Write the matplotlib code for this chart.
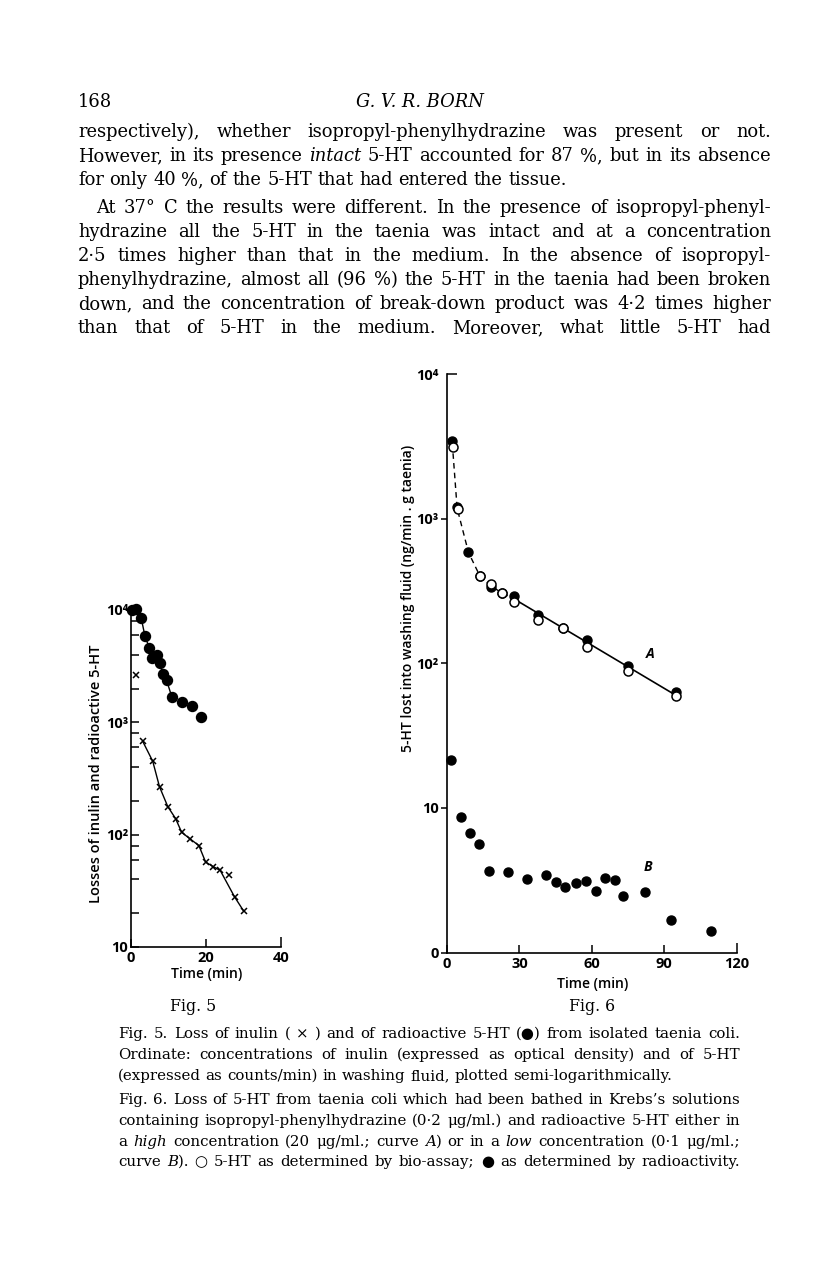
import matplotlib.pyplot as plt
import numpy as np
from matplotlib.ticker import FixedLocator, FixedFormatter

W, H = 816, 1272

# ---- Fig. 5 data ----
inulin_t = [1.4, 3.1, 5.8, 7.6, 9.8, 11.9, 13.5, 15.7, 18.1, 19.9, 21.9, 23.8, 26.0, 27.6, 30.0]
inulin_v = [2650, 680, 450, 267, 178, 139, 105, 92, 80, 57, 52, 48, 44, 28, 21]
inulin_curve = [1, 2, 3, 4, 5, 6, 7, 8, 9, 10, 11, 13, 14]   # points the drawn curve passes through
ht5_t = [0.3, 1.4, 2.7, 3.7, 4.9, 5.5, 6.9, 7.6, 8.5, 9.5, 10.9, 13.5, 16.2, 18.7]
ht5_v = [10000, 10300, 8550, 5900, 4570, 3720, 3940, 3370, 2710, 2360, 1680, 1510, 1410, 1120]
ht5_curve = [0, 2, 3, 4, 5, 7, 8, 9, 10]

# ---- Fig. 6 data ----
a_fill_t = [1.9, 4.0, 8.9, 13.6, 18.1, 22.8, 27.7, 37.9, 48.0, 58.0, 74.9, 94.9]
a_fill_v = [3420, 1200, 584, 402, 339, 305, 292, 216, 175, 145, 95, 63]
a_open_t = [2.6, 4.4, 13.6, 18.1, 22.8, 27.7, 37.9, 48.0, 58.0, 74.9, 94.9]
a_open_v = [3150, 1165, 402, 352, 305, 266, 200, 175, 130, 89, 59]
a_dash_t = [2.2, 4.2, 8.9, 13.6, 18.1, 22.8, 27.7]
a_dash_v = [3300, 1180, 584, 402, 345, 305, 279]
a_fit_t = [27.7, 94.9]
a_fit_v = [279, 60]
b_t = [1.6, 5.8, 9.5, 13.3, 17.3, 25.1, 33.2, 41.2, 45.3, 48.8, 53.5, 57.5, 61.6, 65.4,
       69.7, 72.9, 82.0, 93.0, 109.3]
b_v = [21.3, 8.7, 6.7, 5.6, 3.66, 3.58, 3.21, 3.45, 3.07, 2.84, 3.01, 3.10, 2.68, 3.29,
       3.17, 2.47, 2.61, 1.68, 1.41]

body = [
    "respectively), whether isopropyl-phenylhydrazine was present or not.",
    "However, in its presence *intact* 5-HT accounted for 87 %, but in its absence",
    "for only 40 %, of the 5-HT that had entered the tissue.",
    "At 37° C the results were different.  In the presence of isopropyl-phenyl-",
    "hydrazine all the 5-HT in the taenia was intact and at a concentration",
    "2·5 times higher than that in the medium.  In the absence of isopropyl-",
    "phenylhydrazine, almost all (96 %) the 5-HT in the taenia had been broken",
    "down, and the concentration of break-down product was 4·2 times higher",
    "than that of 5-HT in the medium.  Moreover, what little 5-HT had",
]
captions = [
    "Fig. 5.  Loss of inulin ( × ) and of radioactive 5-HT (●) from isolated taenia coli.",
    "Ordinate: concentrations of inulin (expressed as optical density) and of 5-HT",
    "(expressed as counts/min) in washing fluid, plotted semi-logarithmically.",
    "Fig. 6.  Loss of 5-HT from taenia coli which had been bathed in Krebs’s solutions",
    "containing isopropyl-phenylhydrazine (0·2 μg/ml.) and radioactive 5-HT either in",
    "a *high* concentration (20 μg/ml.; curve *A*) or in a *low* concentration (0·1 μg/ml.;",
    "curve *B*).  ○ 5-HT as determined by bio-assay; ● as determined by radioactivity.",
]

SERIF = ['DejaVu Serif']
SANS = ['Open Sans', 'DejaVu Sans']

fig = plt.figure(figsize=(W / 100, H / 100), dpi=100)
fig.patch.set_facecolor('white')
rend = fig.canvas.get_renderer()


def px(x, y):
    return x / W, 1 - y / H


def segs(word):
    parts = word.split('*')
    return [(p, i % 2 == 1) for i, p in enumerate(parts) if p]


def width(s, size, italic):
    t = fig.text(0, 0, s, fontsize=size, family=SERIF, style='italic' if italic else 'normal')
    w = t.get_window_extent(renderer=rend).width
    t.remove()
    return w


def space(size):
    return width('a a', size, False) - width('aa', size, False)


def natural(line, size):
    words = line.split()
    return sum(width(s, size, it) for w in words for s, it in segs(w)) + space(size) * (len(words) - 1)


def text_line(line, x0, x1, y, size, justify=True):
    words = line.split()
    ws = [sum(width(s, size, it) for s, it in segs(w)) for w in words]
    if justify and len(words) > 1:
        gap = (x1 - x0 - sum(ws)) / (len(words) - 1)
    else:
        gap = space(size)
    x = x0
    for w, wd in zip(words, ws):
        xx = x
        for s, it in segs(w):
            fig.text(*px(xx, y), s, fontsize=size, family=SERIF,
                     style='italic' if it else 'normal', va='baseline')
            xx += width(s, size, it)
        x += wd + gap


# font sizes chosen so that the tightest line just fits the measure
body_size = 10 * 693 / max(natural(l, 10) for l in body) * 0.99
cap_size = 10 * 622 / max(natural(l, 10) for l in captions) * 0.99

# header and body text
fig.text(*px(78, 107), '168', fontsize=body_size, family=SERIF, va='baseline')
fig.text(*px(420, 107), 'G. V. R. BORN', fontsize=body_size, family=SERIF, style='italic',
         va='baseline', ha='center')
body_y = [137, 161, 185, 213, 237, 261, 285, 309, 333]
for i, (line, y) in enumerate(zip(body, body_y)):
    x0 = 96 if i == 3 else 78
    text_line(line, x0, 771, y, body_size, justify=(i != 2))

cap_y = [1038, 1059, 1080, 1104, 1125, 1146, 1166]
for i, (line, y) in enumerate(zip(captions, cap_y)):
    text_line(line, 118, 740, y, cap_size, justify=(i != 2))

fig.text(*px(193, 1011), 'Fig. 5', fontsize=cap_size + 0.6, family=SERIF, ha='center', va='baseline')
fig.text(*px(592, 1011), 'Fig. 6', fontsize=cap_size + 0.6, family=SERIF, ha='center', va='baseline')

# ---- Fig. 5 ----
ax5 = fig.add_axes([131 / W, 1 - 947 / H, 150 / W, 337 / H])
ax5.set_yscale('log')
ax5.set_xlim(0, 40)
ax5.set_ylim(10, 1e4)
ti = np.array(inulin_t)
vi = np.array(inulin_v)
th = np.array(ht5_t)
vh = np.array(ht5_v)
ax5.plot(ti[inulin_curve], vi[inulin_curve], color='black', lw=1.0, clip_on=False)
ax5.plot(th[ht5_curve], vh[ht5_curve], color='black', lw=1.0, clip_on=False)
ax5.plot(ti, vi, 'x', color='black', ms=5, mew=1.1, clip_on=False)
ax5.plot(th, vh, 'o', color='black', ms=7.2, clip_on=False)

for sp in ['top', 'right']:
    ax5.spines[sp].set_visible(False)
for sp in ['left', 'bottom']:
    ax5.spines[sp].set_linewidth(1.2)
ax5.yaxis.set_major_locator(FixedLocator([10, 100, 1000, 10000]))
ax5.yaxis.set_major_formatter(FixedFormatter(['10', '10²', '10³', '10⁴']))
minors = [m * d for d in (10, 100, 1000) for m in (2, 4, 6, 8)]
ax5.yaxis.set_minor_locator(FixedLocator(minors))
ax5.yaxis.set_minor_formatter(FixedFormatter([''] * len(minors)))
ax5.xaxis.set_major_locator(FixedLocator([0, 20]))
ax5.xaxis.set_minor_locator(FixedLocator([40]))
ax5.xaxis.set_minor_formatter(FixedFormatter(['40']))
ax5.tick_params(axis='y', which='major', direction='in', length=6, width=1.1, pad=2)
ax5.tick_params(axis='y', which='minor', direction='in', length=5.5, width=1.1)
ax5.tick_params(axis='x', which='major', direction='in', length=6, width=1.1, pad=3)
ax5.tick_params(axis='x', which='minor', direction='in', length=7, width=1.1, pad=3)
for lab in ax5.get_xticklabels(which='both') + ax5.get_yticklabels():
    lab.set_fontfamily(SANS)
    lab.set_fontsize(10.5)
    lab.set_fontweight('bold')
fig.text(*px(207, 974), 'Time (min)', fontsize=10, family=SANS, ha='center', va='center',
         fontweight='semibold')
fig.text(*px(96, 774), 'Losses of inulin and radioactive 5-HT', fontsize=10.5, family=SANS,
         rotation=90, ha='center', va='center', fontweight='semibold')

# ---- Fig. 6 ----
ax6 = fig.add_axes([447 / W, 1 - 952.5 / H, 289.5 / W, 578.5 / H])
ax6.set_yscale('log')
ax6.set_xlim(0, 120)
ax6.set_ylim(1, 1e4)
ax6.plot(a_dash_t, a_dash_v, color='black', lw=1.0, ls=(0, (4, 3)), clip_on=False)
ax6.plot(a_fit_t, a_fit_v, color='black', lw=1.2, clip_on=False)
ax6.plot(a_fill_t, a_fill_v, 'o', color='black', ms=6.5, clip_on=False)
ax6.plot(a_open_t, a_open_v, 'o', mfc='white', mec='black', mew=1.1, ms=6.5, clip_on=False)
ax6.plot(b_t, b_v, 'o', color='black', ms=6.5, clip_on=False)
ax6.text(84.2, 115, 'A', fontsize=10, family=SANS, style='italic', fontweight='bold',
         ha='center', va='center')
ax6.text(83.3, 3.9, 'B', fontsize=10, family=SANS, style='italic', fontweight='bold',
         ha='center', va='center')

for sp in ['top', 'right']:
    ax6.spines[sp].set_visible(False)
for sp in ['left', 'bottom']:
    ax6.spines[sp].set_linewidth(1.2)
ax6.yaxis.set_major_locator(FixedLocator([1, 10, 100, 1000]))
ax6.yaxis.set_major_formatter(FixedFormatter(['0', '10', '10²', '10³']))
ax6.yaxis.set_minor_locator(FixedLocator([10000]))
ax6.yaxis.set_minor_formatter(FixedFormatter(['10⁴']))
ax6.xaxis.set_major_locator(FixedLocator([0, 30, 60, 90]))
ax6.xaxis.set_minor_locator(FixedLocator([120]))
ax6.xaxis.set_minor_formatter(FixedFormatter(['120']))
ax6.tick_params(axis='y', which='major', direction='out', length=4, width=1.1, pad=2)
ax6.tick_params(axis='y', which='minor', direction='in', length=7, width=1.1, pad=6)
ax6.tick_params(axis='x', which='major', direction='in', length=6, width=1.1, pad=3)
ax6.tick_params(axis='x', which='minor', direction='in', length=7, width=1.1, pad=3)
for lab in (ax6.get_xticklabels(which='both') + ax6.get_yticklabels(which='both')):
    lab.set_fontfamily(SANS)
    lab.set_fontsize(10.5)
    lab.set_fontweight('bold')
fig.text(*px(593, 984), 'Time (min)', fontsize=10, family=SANS, ha='center', va='center',
         fontweight='semibold')
fig.text(*px(408, 598), '5-HT lost into washing fluid (ng/min . g taenia)', fontsize=10,
         family=SANS, rotation=90, ha='center', va='center', fontweight='semibold')

fig.savefig('out.png', dpi=100, facecolor='white')
